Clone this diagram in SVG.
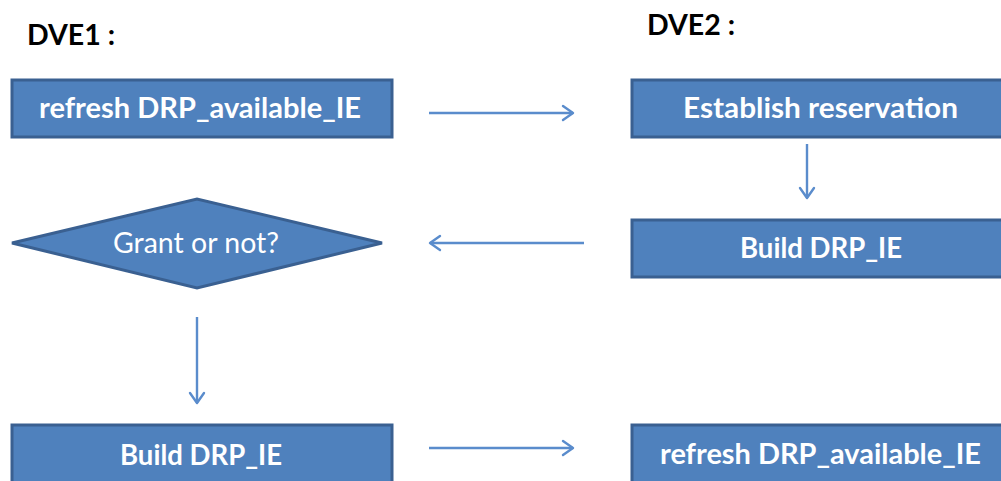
<svg xmlns="http://www.w3.org/2000/svg" width="1001" height="481" viewBox="0 0 1001 481">
  <defs>
    <marker id="open-arrow" viewBox="0 0 14 18" refX="12" refY="9" markerWidth="14" markerHeight="18" markerUnits="userSpaceOnUse" orient="auto">
      <path d="M2,2 L12,9 L2,16" fill="none" stroke="#5a8ccc" stroke-width="2.4" stroke-linecap="round" stroke-linejoin="round"/>
    </marker>
  </defs>
  <style>
    .box { fill: #4f81bd; stroke: #3a6091; stroke-width: 3; }
    .lbl { fill: #ffffff; font-family: Lato, "Liberation Sans", sans-serif; font-size: 29px; font-weight: bold; }
    .lbl-n { fill: #ffffff; font-family: Lato, "Liberation Sans", sans-serif; font-size: 29px; font-weight: normal; }
    .head { fill: #000000; font-family: Lato, "Liberation Sans", sans-serif; font-size: 28px; font-weight: bold; }
    .edge { stroke: #5a8ccc; stroke-width: 2.4; fill: none; marker-end: url(#open-arrow); }
  </style>
  <rect width="1001" height="481" fill="#ffffff"/>

  <text class="head" x="27" y="45" textLength="88" lengthAdjust="spacingAndGlyphs">DVE1 :</text>
  <text class="head" x="647" y="35" textLength="88" lengthAdjust="spacingAndGlyphs">DVE2 :</text>

  <g id="dve1-refresh">
    <rect class="box" x="12" y="80" width="380" height="57"/>
    <text class="lbl" x="39" y="118" textLength="322" lengthAdjust="spacingAndGlyphs">refresh DRP_available_IE</text>
  </g>
  <g id="dve1-grant">
    <polygon class="box" points="12,243 197,199 382,243 197,288"/>
    <text class="lbl-n" x="113" y="253" textLength="166" lengthAdjust="spacingAndGlyphs">Grant or not?</text>
  </g>
  <g id="dve1-build">
    <rect class="box" x="12" y="425" width="380" height="60"/>
    <text class="lbl" x="120" y="465" textLength="162" lengthAdjust="spacingAndGlyphs">Build DRP_IE</text>
  </g>
  <g id="dve2-establish">
    <rect class="box" x="632" y="80" width="380" height="57"/>
    <text class="lbl" x="683" y="118" textLength="275" lengthAdjust="spacingAndGlyphs">Establish reservation</text>
  </g>
  <g id="dve2-build">
    <rect class="box" x="632" y="220" width="380" height="57"/>
    <text class="lbl" x="740" y="258" textLength="162" lengthAdjust="spacingAndGlyphs">Build DRP_IE</text>
  </g>
  <g id="dve2-refresh">
    <rect class="box" x="632" y="425" width="380" height="60"/>
    <text class="lbl" x="660" y="464" textLength="321" lengthAdjust="spacingAndGlyphs">refresh DRP_available_IE</text>
  </g>

  <g id="connectors">
    <line class="edge" x1="429" y1="113" x2="573" y2="113"/>
    <line class="edge" x1="807" y1="144" x2="807" y2="198"/>
    <line class="edge" x1="584" y1="243" x2="430" y2="243"/>
    <line class="edge" x1="197" y1="317" x2="197" y2="403"/>
    <line class="edge" x1="429" y1="448" x2="573" y2="448"/>
  </g>
</svg>
